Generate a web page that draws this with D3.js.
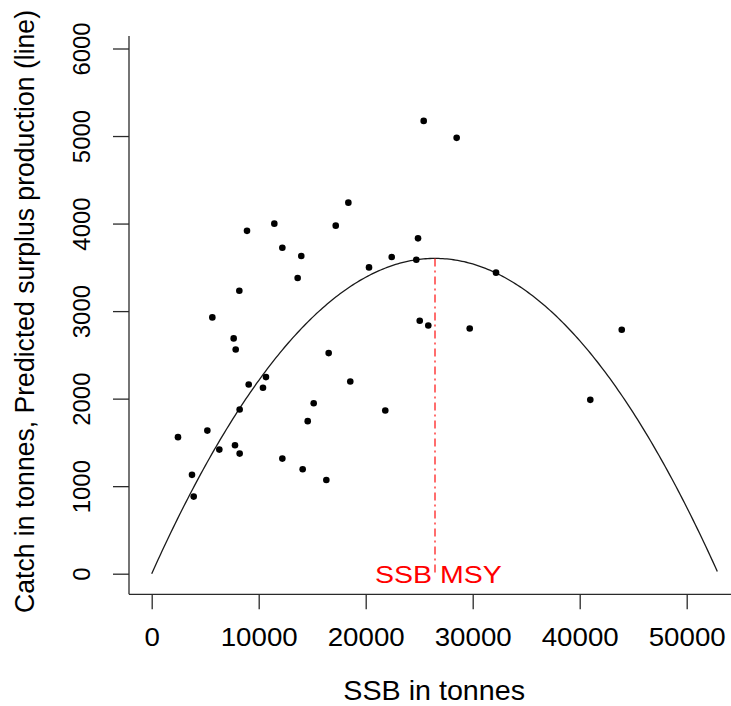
<!DOCTYPE html>
<html>
<head>
<meta charset="utf-8">
<script src="https://cdn.jsdelivr.net/npm/d3@7"></script>
<style>
  html, body { margin: 0; padding: 0; background: #fff; }
  svg { display: block; font-family: "Liberation Sans", Arial, sans-serif; }
</style>
</head>
<body>
<svg id="chart" width="731" height="706"></svg>
<script>
// ---- data ----
const ssb = [18380, 11460, 8907, 17200, 12210, 13980, 13640, 8190, 20310,
  5667, 7660, 7850, 10680, 9065, 10400, 8220, 2458, 5200, 6320, 7785, 8220, 3766, 3925,
  16540, 18560, 15140, 14580, 12210, 14110, 16320,
  25420, 28500, 24890, 22430, 24730, 32180, 25050, 25850, 29720, 43930, 40990, 21830];
const catchT = [4239, 3999, 3917, 3976, 3724, 3629, 3378, 3233, 3499,
  2928, 2688, 2562, 2246, 2161, 2124, 1876, 1560, 1635, 1418, 1468, 1372, 1129, 881,
  2520, 2196, 1948, 1743, 1315, 1194, 1071,
  5173, 4979, 3831, 3618, 3587, 3439, 2890, 2836, 2802, 2787, 1986, 1864];
// Schaefer surplus production model parameters (fitted line)
const carryingCapacity = [52954];
const msyValue = [3602];
const ssbMsy = [26477];
const curveRange = [0, 52860];
const xTicks = [0, 10000, 20000, 30000, 40000, 50000];
const yTicks = [0, 1000, 2000, 3000, 4000, 5000, 6000];
const xTitle = "SSB in tonnes";
const yTitle = "Catch in tonnes, Predicted surplus production (line)";
const msyLabel = "SSB MSY";

const svg = d3.select("#chart");
const x = d3.scaleLinear().domain([0, 50000]).range([151.7, 686.7]);
const y = d3.scaleLinear().domain([0, 6000]).range([573.7, 48.5]);

const axisColor = "#2a2a2a";

// box (L-shaped)
svg.append("line").attr("x1", 129).attr("x2", 129).attr("y1", 36).attr("y2", 594.3)
  .attr("stroke", axisColor).attr("stroke-width", 1.3);
svg.append("line").attr("x1", 129).attr("x2", 731).attr("y1", 594.3).attr("y2", 594.3)
  .attr("stroke", axisColor).attr("stroke-width", 1.3);

// y axis
const gy = svg.append("g").attr("transform", "translate(129,0)")
  .call(d3.axisLeft(y).tickValues(yTicks).tickSize(16).tickFormat(d3.format("d")));
gy.select(".domain").remove();
gy.selectAll(".tick line").attr("stroke", axisColor).attr("stroke-width", 1.3);
gy.selectAll(".tick text")
  .attr("x", 0).attr("y", 0).attr("dy", 0)
  .attr("transform", d => `translate(${89.5 - 129},0) rotate(-90)`)
  .attr("text-anchor", "middle")
  .attr("fill", "#000")
  .style("font-size", "23px")
  .attr("textLength", d => String(d).length * 13.3)
  .attr("lengthAdjust", "spacingAndGlyphs");

// x axis
const gx = svg.append("g").attr("transform", "translate(0,594.3)")
  .call(d3.axisBottom(x).tickValues(xTicks).tickSize(15).tickFormat(d3.format("d")));
gx.select(".domain").remove();
gx.selectAll(".tick line").attr("stroke", axisColor).attr("stroke-width", 1.3);
gx.selectAll(".tick text")
  .attr("y", 646 - 594.3).attr("dy", 0)
  .attr("text-anchor", "middle")
  .attr("fill", "#000")
  .style("font-size", "26px")
  .attr("textLength", d => String(d).length * 15.4)
  .attr("lengthAdjust", "spacingAndGlyphs");

// axis titles
svg.append("text").attr("x", 434.2).attr("y", 700)
  .attr("text-anchor", "middle").style("font-size", "28px").attr("fill", "#000")
  .attr("textLength", 181.7).attr("lengthAdjust", "spacingAndGlyphs")
  .text(xTitle);
svg.append("text")
  .attr("transform", "translate(33.5,311.5) rotate(-90)")
  .attr("text-anchor", "middle").style("font-size", "27px").attr("fill", "#000")
  .attr("textLength", 603).attr("lengthAdjust", "spacingAndGlyphs")
  .text(yTitle);

// surplus production curve
const K = carryingCapacity[0], M = msyValue[0];
const curveX = d3.range(curveRange[0], curveRange[1], 200).concat([curveRange[1]]);
const curvePts = curveX.map(s => [s, 4 * M * (s / K) * (1 - s / K)]);
svg.append("path")
  .datum(curvePts)
  .attr("d", d3.line().x(d => x(d[0])).y(d => y(d[1])))
  .attr("fill", "none").attr("stroke", "#1a1a1a").attr("stroke-width", 1.3);

// SSB MSY vertical line
svg.append("line")
  .attr("x1", x(ssbMsy[0])).attr("x2", x(ssbMsy[0]))
  .attr("y1", y(M)).attr("y2", y(0))
  .attr("stroke", "#ff2020").attr("stroke-width", 1.3)
  .attr("stroke-dasharray", "8,4,2,4");

svg.append("text").attr("x", x(ssbMsy[0]) + 3.3).attr("y", 583.3)
  .attr("text-anchor", "middle").style("font-size", "23.5px").attr("fill", "#ff0000")
  .attr("textLength", 126.7).attr("lengthAdjust", "spacingAndGlyphs")
  .text(msyLabel);

// points
svg.append("g").selectAll("circle")
  .data(ssb.map((s, i) => [s, catchT[i]]))
  .join("circle")
  .attr("cx", d => x(d[0])).attr("cy", d => y(d[1]))
  .attr("r", 3.3).attr("fill", "#000");
</script>
</body>
</html>
